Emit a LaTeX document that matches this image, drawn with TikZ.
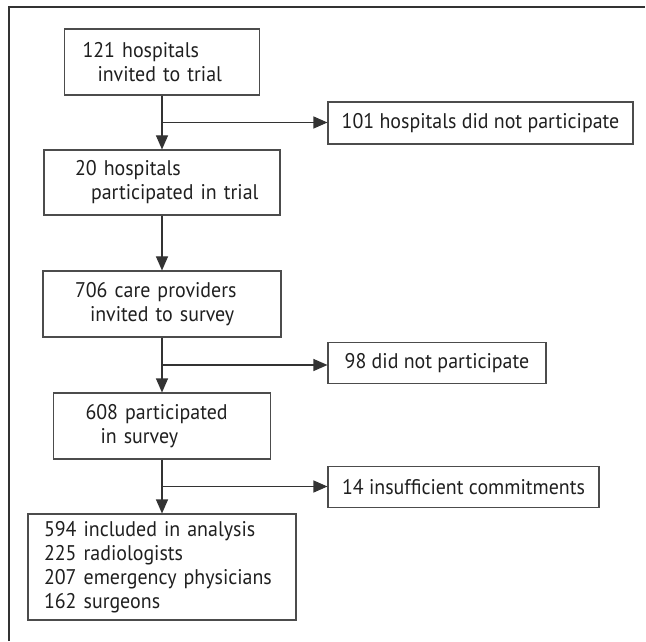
\documentclass[tikz,border=0pt]{standalone}
\usepackage{fontspec}
\setmainfont{PT Sans}[FakeStretch=0.94]
\usetikzlibrary{arrows.meta, positioning}

\begin{document}
\begin{tikzpicture}[x=0.5pt, y=-0.5pt,
        box/.style={draw=black!70, line width=0.55pt, inner xsep=0pt, inner ysep=2pt,
            font=\fontsize{10.6pt}{12pt}\selectfont, text=black!88},
        mainbox/.style={box, align=left},
        sidebox/.style={box, align=center},
        arr/.style={draw=black!80, line width=0.55pt, -{Triangle[length=7pt,width=6pt]}}]
        % Marco
        \useasboundingbox (0,0) rectangle (646,641);
        \draw[black!80, line width=0.8pt] (9,641) -- (9,7) -- (645,7);
        % Cajas principales
        \node[mainbox, text width=97.5pt, minimum height=33pt] (b1) at (162,62)
            {\hspace*{9pt}121 hospitals\\\hspace*{16.5pt}invited to trial};
        \node[mainbox, text width=118pt, minimum height=32.5pt] (b2) at (162,182.5)
            {\hspace*{15.5pt}20 hospitals\\\hspace*{23.5pt}participated in trial};
        \node[mainbox, text width=119pt, minimum height=33pt] (b3) at (162,304)
            {\hspace*{16pt}706 care providers\\\hspace*{23.5pt}invited to survey};
        \node[mainbox, text width=108.5pt, minimum height=33pt] (b4) at (162,426)
            {\hspace*{16pt}608 participated\\\hspace*{23.5pt}in survey};
        \node[mainbox, text width=134pt, minimum height=53pt] (b5) at (162,567)
            {\hspace*{8pt}594 included in analysis\\\hspace*{8pt}225 radiologists\\
             \hspace*{8pt}207 emergency physicians\\\hspace*{8pt}162 surgeons};
        % Cajas laterales
        \node[sidebox, minimum width=152.5pt, minimum height=21pt] (b101) at (480.5,123)
            {101 hospitals did not participate};
        \node[sidebox, minimum width=109pt, minimum height=20.5pt] (b98) at (437,363)
            {98 did not participate};
        \node[sidebox, minimum width=135.5pt, minimum height=20.5pt] (b14) at (463.5,487)
            {14 insufficient commitments};
        % Flechas
        \draw[arr] (b1.south) -- coordinate (j1) (b2.north);
        \draw[arr] (j1) -- (j1 -| b101.west);
        \draw[arr] (b2.south) -- (b3.north);
        \draw[arr] (b3.south) -- coordinate (j2) (b4.north);
        \draw[arr] (j2) -- (j2 -| b98.west);
        \draw[arr] (b4.south) -- coordinate (j3) (b5.north);
        \draw[arr] (j3) -- (j3 -| b14.west);
\end{tikzpicture}
\end{document}
